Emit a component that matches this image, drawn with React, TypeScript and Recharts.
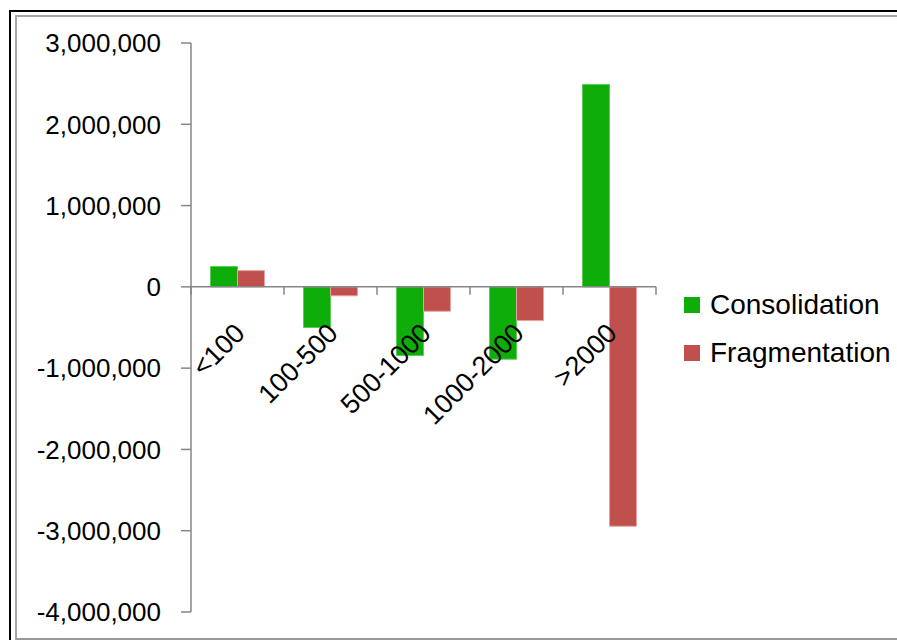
import React from 'react';
import { BarChart, Bar, XAxis, YAxis, ReferenceLine, Legend } from 'recharts';

const categories = ['<100', '100-500', '500-1000', '1000-2000', '>2000'];
const consolidation = [250000, -500000, -845000, -890000, 2490000];
const fragmentation = [200000, -110000, -300000, -415000, -2945000];
const yTicks = [3000000, 2000000, 1000000, 0, -1000000, -2000000, -3000000, -4000000];
const seriesNames = ['Consolidation', 'Fragmentation'];
const seriesColors = ['#0FAD09', '#C0504D'];
const seriesStrokes = ['#5CCB58', '#E8A3A1'];

const data = categories.map((c, i) => ({
  name: c,
  Consolidation: consolidation[i],
  Fragmentation: fragmentation[i],
}));

const W = 897;
const H = 640;
const X_AXIS_H = 28;
const MARGIN = { top: 43, right: 241, bottom: 0, left: 0 };
const Y_AXIS_W = 191;
const PLOT_H = H - MARGIN.top - MARGIN.bottom - X_AXIS_H;
const PLOT_W = W - MARGIN.left - MARGIN.right - Y_AXIS_W;
const Y_MAX = yTicks[0];
const Y_MIN = yTicks[yTicks.length - 1];
const ZERO_Y = MARGIN.top + (PLOT_H * Y_MAX) / (Y_MAX - Y_MIN);
const BW = PLOT_W / categories.length;
const FONT = '"Liberation Sans", Arial, sans-serif';
const AXIS_COLOR = '#868686';

const fmt = (v: number) => v.toLocaleString('en-US');

const CatTick = (props: any) => {
  const { x, payload, index } = props;
  const ax = x + 9;
  const ay = ZERO_Y + 48;
  return (
    <g>
      {index === 0 ? (
        <line x1={x - BW / 2} x2={x - BW / 2} y1={ZERO_Y} y2={ZERO_Y + 8} stroke={AXIS_COLOR} strokeWidth={1.5} />
      ) : null}
      <line x1={x + BW / 2} x2={x + BW / 2} y1={ZERO_Y} y2={ZERO_Y + 8} stroke={AXIS_COLOR} strokeWidth={1.5} />
      <text
        x={ax}
        y={ay}
        transform={`rotate(-45, ${ax}, ${ay})`}
        textAnchor="end"
        fontFamily={FONT}
        fontSize={27}
        fill="#000"
      >
        {payload.value}
      </text>
    </g>
  );
};

const LegendContent = () => (
  <div style={{ fontFamily: FONT, fontSize: 28, color: '#000' }}>
    {seriesNames.map((n, i) => (
      <div key={n} style={{ display: 'flex', alignItems: 'center', height: 48 }}>
        <div style={{ width: 16, height: 16, background: seriesColors[i], marginRight: 10 }} />
        <span style={{ lineHeight: '30px' }}>{n}</span>
      </div>
    ))}
  </div>
);

export default function App() {
  return (
    <div style={{ position: 'absolute', left: 0, top: 0, width: W, height: H, background: '#fff', overflow: 'hidden' }}>
      <div
        style={{
          position: 'absolute',
          left: 9,
          top: 10,
          width: W + 20,
          height: H + 20,
          borderLeft: '2px solid #000',
          borderTop: '2px solid #000',
          boxSizing: 'border-box',
        }}
      />
      <div
        style={{
          position: 'absolute',
          left: 15,
          top: 15,
          width: W + 20,
          height: 625,
          borderLeft: '2px solid #a6a6a6',
          borderTop: '2px solid #a6a6a6',
          borderBottom: '2px solid #999',
          boxSizing: 'border-box',
        }}
      />
      <div style={{ position: 'absolute', left: 0, top: 0 }}>
        <BarChart
          width={W}
          height={H}
          data={data}
          margin={MARGIN}
          barCategoryGap="21%"
          barGap={0}
        >
          <XAxis
            dataKey="name"
            axisLine={false}
            tickLine={false}
            height={X_AXIS_H}
            tick={<CatTick />}
            interval={0}
          />
          <YAxis
            width={Y_AXIS_W}
            domain={[Y_MIN, Y_MAX]}
            ticks={yTicks}
            interval={0}
            tickFormatter={fmt}
            axisLine={{ stroke: AXIS_COLOR, strokeWidth: 1.5 }}
            tickLine={{ stroke: AXIS_COLOR, strokeWidth: 1.5 }}
            tickSize={10}
            tickMargin={20}
            tick={{ fontFamily: FONT, fontSize: 26, fill: '#000' }}
            allowDataOverflow
          />
          <Bar
            dataKey="Consolidation"
            fill={seriesColors[0]}
            stroke={seriesStrokes[0]}
            strokeWidth={1}
            isAnimationActive={false}
          />
          <Bar
            dataKey="Fragmentation"
            fill={seriesColors[1]}
            stroke={seriesStrokes[1]}
            strokeWidth={1}
            isAnimationActive={false}
          />
          <ReferenceLine y={0} stroke={AXIS_COLOR} strokeWidth={1.5} />
          <Legend
            layout="vertical"
            align="center"
            verticalAlign="middle"
            wrapperStyle={{ left: 684, top: 281, width: 210 }}
            content={<LegendContent />}
          />
        </BarChart>
      </div>
    </div>
  );
}
